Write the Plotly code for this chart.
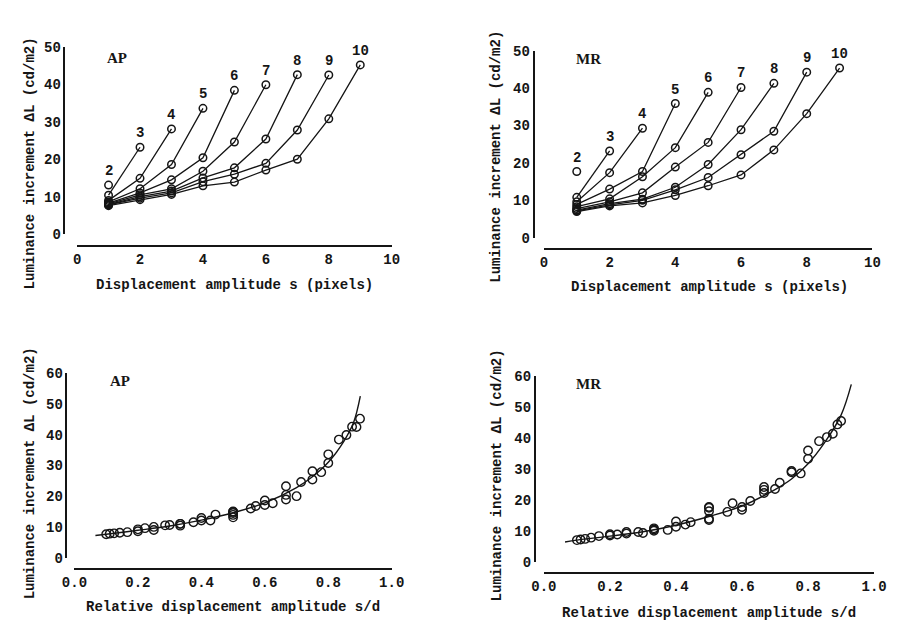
import plotly.graph_objects as go

W, H = 900, 630

# ---------------- data ----------------
# Top panels: luminance increment (cd/m2) vs displacement s = 1..d-1 (pixels), one curve per d
series_d = [2, 3, 4, 5, 6, 7, 8, 9, 10]
ap_values = [
    [13.1],
    [10.4, 23.2],
    [9.0, 14.9, 28.1],
    [8.6, 12.1, 18.6, 33.6],
    [8.3, 11.0, 14.5, 20.4, 38.4],
    [8.1, 10.5, 12.1, 16.8, 24.6, 39.9],
    [7.9, 10.0, 11.5, 15.0, 17.7, 25.4, 42.6],
    [7.8, 9.6, 11.0, 14.0, 16.0, 18.9, 27.8, 42.5],
    [7.6, 9.2, 10.6, 12.9, 13.9, 17.1, 20.0, 30.8, 45.2],
]
mr_values = [
    [17.7],
    [10.8, 23.2],
    [9.6, 17.4, 29.3],
    [8.9, 13.0, 17.7, 35.9],
    [8.3, 10.4, 16.3, 24.1, 38.9],
    [7.8, 9.6, 12.0, 18.9, 25.5, 40.2],
    [7.4, 9.1, 10.3, 13.5, 19.6, 28.9, 41.3],
    [7.2, 8.8, 10.0, 12.8, 16.1, 22.2, 28.5, 44.3],
    [7.0, 8.5, 9.3, 11.3, 13.9, 16.8, 23.5, 33.2, 45.4],
]
# Bottom panels: fitted curves vs relative displacement s/d
ap_fit_x = [0.066, 0.1, 0.2, 0.3, 0.4, 0.5, 0.6, 0.7, 0.75, 0.8, 0.85, 0.88, 0.901]
ap_fit_y = [7.2, 7.6, 8.9, 10.3, 12.2, 14.6, 17.8, 22.8, 26.3, 31.0, 38.0, 44.0, 52.5]
mr_fit_x = [0.064, 0.1, 0.2, 0.3, 0.4, 0.5, 0.6, 0.7, 0.75, 0.8, 0.85, 0.9, 0.931]
mr_fit_y = [6.4, 7.0, 8.3, 9.7, 11.8, 14.6, 18.0, 23.3, 26.7, 31.6, 38.4, 47.3, 57.2]

x_ticks_top = [0, 2, 4, 6, 8, 10]
y_ticks_top = [0, 10, 20, 30, 40, 50]
x_ticks_bottom = [0.0, 0.2, 0.4, 0.6, 0.8, 1.0]
y_ticks_bottom = [0, 10, 20, 30, 40, 50, 60]

ytitle = "Luminance increment \u0394L (cd/m2)"
xtitle_top = "Displacement amplitude s (pixels)"
xtitle_bottom = "Relative displacement amplitude s/d"

# ---------------- layout helpers (pixel -> paper) ----------------
def fx(px):
    return px / W

def fy(py):
    return 1 - py / H

INK = "#151515"
MONO_FAMILY = "Liberation Mono"
MONO = dict(family=MONO_FAMILY, size=14, color=INK, weight="bold")

fig = go.Figure()

# panel geometry in pixels
panels = {
    1: dict(x=(66, 390), y=(233, 41), xline=245, yline=53),
    2: dict(x=(546.7, 885), y=(236.7, 45), xline=248.7, yline=536),
    3: dict(x=(63.3, 390), y=(565, 375.7), xline=576.7, yline=55),
    4: dict(x=(546.7, 886.7), y=(569.3, 378.3), xline=580.7, yline=537.3),
}

annotations = []

# ---- top panels ----
for idx, vals_all in zip([1, 2], [ap_values, mr_values]):
    xa = "x" if idx == 1 else f"x{idx}"
    ya = "y" if idx == 1 else f"y{idx}"
    for d, vals in zip(series_d, vals_all):
        s = list(range(1, len(vals) + 1))
        fig.add_trace(go.Scatter(
            x=s, y=vals, xaxis=xa, yaxis=ya, mode="lines+markers",
            line=dict(color=INK, width=1.3),
            marker=dict(symbol="circle-open", size=7.5, color=INK, line=dict(width=1.5, color=INK)),
            cliponaxis=False, showlegend=False, hoverinfo="x+y",
        ))
        annotations.append(dict(
            x=s[-1], y=vals[-1], xref=xa, yref=ya, text=str(d), showarrow=False,
            yshift=14, font=dict(family=MONO_FAMILY, size=14, color=INK, weight="bold"),
        ))

# ---- bottom panels ----
for idx, vals_all, fx_, fy_ in [(3, ap_values, ap_fit_x, ap_fit_y), (4, mr_values, mr_fit_x, mr_fit_y)]:
    xa, ya = f"x{idx}", f"y{idx}"
    rx, ry = [], []
    for d, vals in zip(series_d, vals_all):
        for i, v in enumerate(vals):
            rx.append((i + 1) / d)
            ry.append(v)
    fig.add_trace(go.Scatter(
        x=fx_, y=fy_, xaxis=xa, yaxis=ya, mode="lines",
        line=dict(color=INK, width=1.4, shape="spline", smoothing=1.0),
        cliponaxis=False, showlegend=False, hoverinfo="skip",
    ))
    fig.add_trace(go.Scatter(
        x=rx, y=ry, xaxis=xa, yaxis=ya, mode="markers",
        marker=dict(symbol="circle-open", size=8.5, color=INK, line=dict(width=1.4, color=INK)),
        cliponaxis=False, showlegend=False, hoverinfo="x+y",
    ))

layout = {}
for idx, p in panels.items():
    top = idx in (1, 2)
    xkey = "xaxis" if idx == 1 else f"xaxis{idx}"
    ykey = "yaxis" if idx == 1 else f"yaxis{idx}"
    layout[xkey] = dict(
        domain=[fx(p["x"][0]), fx(p["x"][1])],
        range=[0, 10] if top else [0, 1],
        anchor="free", position=fy(p["xline"]),
        tickvals=x_ticks_top if top else x_ticks_bottom,
        tickformat="d" if top else ".1f",
        showgrid=False, zeroline=False, showline=True, linecolor=INK, linewidth=2,
        ticks="", tickfont=MONO, fixedrange=True,
    )
    layout[ykey] = dict(
        domain=[fy(p["y"][0]), fy(p["y"][1])],
        range=[0, 50] if top else [0, 60],
        anchor="free", position=fx(p["yline"]),
        tickvals=y_ticks_top if top else y_ticks_bottom,
        showgrid=False, zeroline=False, showline=True, linecolor=INK, linewidth=1.6,
        ticks="", tickfont=MONO, fixedrange=True,
    )

# titles and panel labels (pixel positions)
title_pos = {
    1: dict(yt=(17, 161), xt=(228, 285), lab=(107, 52), text=xtitle_top, sub="AP"),
    2: dict(yt=(497, 154), xt=(717, 287), lab=(593, 53), text=xtitle_top, sub="MR"),
    3: dict(yt=(17, 479), xt=(227, 616), lab=(110, 384), text=xtitle_bottom, sub="AP"),
    4: dict(yt=(498, 481), xt=(717, 622), lab=(593, 387), text=xtitle_bottom, sub="MR"),
}
for idx, t in title_pos.items():
    annotations.append(dict(x=fx(t["yt"][0]), y=fy(t["yt"][1]), xref="paper", yref="paper",
                            text=ytitle, textangle=-90, showarrow=False, font=MONO,
                            xanchor="center", yanchor="middle"))
    annotations.append(dict(x=fx(t["xt"][0]), y=fy(t["xt"][1]), xref="paper", yref="paper",
                            text=t["text"], showarrow=False, font=MONO,
                            xanchor="center", yanchor="middle"))
    annotations.append(dict(x=fx(t["lab"][0]), y=fy(t["lab"][1]), xref="paper", yref="paper",
                            text=t["sub"], showarrow=False,
                            font=dict(family="Liberation Serif", size=15, color=INK, weight="bold"),
                            xanchor="center", yanchor="middle"))

fig.update_layout(
    width=W, height=H, margin=dict(l=0, r=0, t=0, b=0),
    paper_bgcolor="white", plot_bgcolor="white",
    annotations=annotations, showlegend=False,
    **layout,
)

fig.write_html("out.html")
